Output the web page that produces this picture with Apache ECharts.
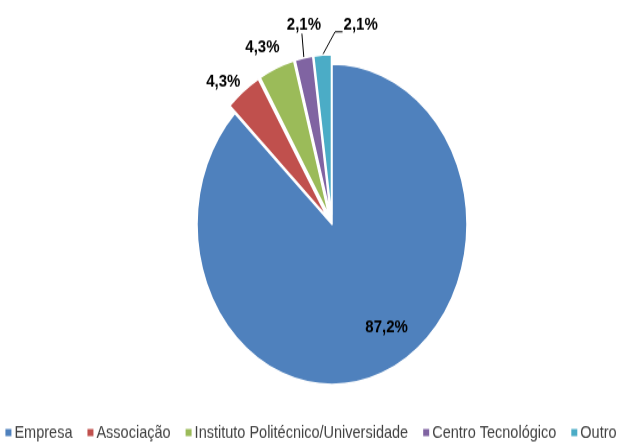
<!DOCTYPE html>
<html lang="pt">
<head>
    <meta charset="UTF-8">
    <script type="text/javascript" src="https://cdn.jsdelivr.net/npm/echarts@6/dist/echarts.min.js"></script>
    <style>
        html, body { margin: 0; padding: 0; background: #fff; overflow: hidden; }
        /* o original está esticado na vertical, por isso escala-se o gráfico */
        #wrap { width: 620px; height: 445px; overflow: hidden; }
        #pieChart { width: 620px; height: 375px; transform: scale(1, 1.1867); transform-origin: 0 0; }
    </style>
</head>
<body>
    <div id="wrap">
        <div id="pieChart"></div>
    </div>
</body>
<script>
    // categorias
    var categorias = ["Empresa", "Associação", "Instituto Politécnico/Universidade", "Centro Tecnológico", "Outro"];
    // percentagens
    var valores = [87.2, 4.3, 4.3, 2.1, 2.1];
    // cores (Excel)
    var cores = ["#4F81BD", "#C0504D", "#9BBB59", "#8064A2", "#4BACC6"];

    var pieChart = echarts.init(document.getElementById("pieChart"));

    var dados = [];
    for (var i = 0; i < categorias.length; i++) {
        var item = {
            name: categorias[i],
            value: valores[i],
            itemStyle: { color: cores[i] }
        };
        if (i === 0) {
            item.label = { position: "inside" };
        } else {
            item.selected = true;
            // só as fatias de 2,1% têm linha
            item.labelLine = { show: true, lineStyle: { opacity: i >= 3 ? 1 : 0 } };
        }
        dados.push(item);
    }

    // centro desejado da etiqueta, relativo ao ponto de saída da linha
    var desvios = [null, [-20, -8], [-14, -17.5], [0, -27.5], [null, -25]];

    function posEtiqueta(p) {
        var r = p.labelRect;
        if (p.dataIndex === 0) {
            return { dx: 27, dy: 22 };
        }
        if (!p.labelLinePoints) {
            return {};
        }
        var p0 = p.labelLinePoints[0];
        var x = p0[0], y = p0[1];
        var d = desvios[p.dataIndex];
        var tx, ty = y + d[1] - r.height / 2;
        var linha = [p0, p0, p0];
        if (p.dataIndex === 4) {
            tx = x + 21;
            linha = [p0, [x + 12.5, y - 19.5], [x + 20, y - 19.5]];
        } else {
            tx = x + d[0] - r.width / 2;
            if (p.dataIndex === 3) {
                linha = [p0, [x - 2, y - 20.5], [x - 2, y - 20.5]];
            }
        }
        return { dx: tx - r.x, dy: ty - r.y, labelLinePoints: linha };
    }

    var option = {
        animation: false,
        color: cores,
        legend: {
            bottom: 3,
            left: "center",
            padding: 0,
            itemWidth: 8,
            itemHeight: 8,
            itemGap: 13,
            icon: "rect",
            textStyle: { fontFamily: "Liberation Sans", fontSize: 14.5, color: "#404040", padding: [0, 0, 0, -3] },
            data: categorias
        },
        series: [{
            type: "pie",
            center: [332, 189],
            radius: 135,
            startAngle: 90,
            clockwise: true,
            selectedMode: "multiple",
            selectedOffset: 8,
            avoidLabelOverlap: false,
            itemStyle: { borderColor: "#fff", borderWidth: 1.5 },
            label: {
                show: true,
                position: "outside",
                fontFamily: "Liberation Sans",
                fontWeight: "bold",
                fontSize: 15,
                color: "#000",
                formatter: function (p) {
                    return p.value.toFixed(1).replace(".", ",") + "%";
                }
            },
            labelLine: { show: false, length: 12, length2: 6, lineStyle: { color: "#000", width: 1 } },
            labelLayout: posEtiqueta,
            emphasis: { disabled: true },
            data: dados
        }]
    };
    pieChart.setOption(option);
</script>
</html>
